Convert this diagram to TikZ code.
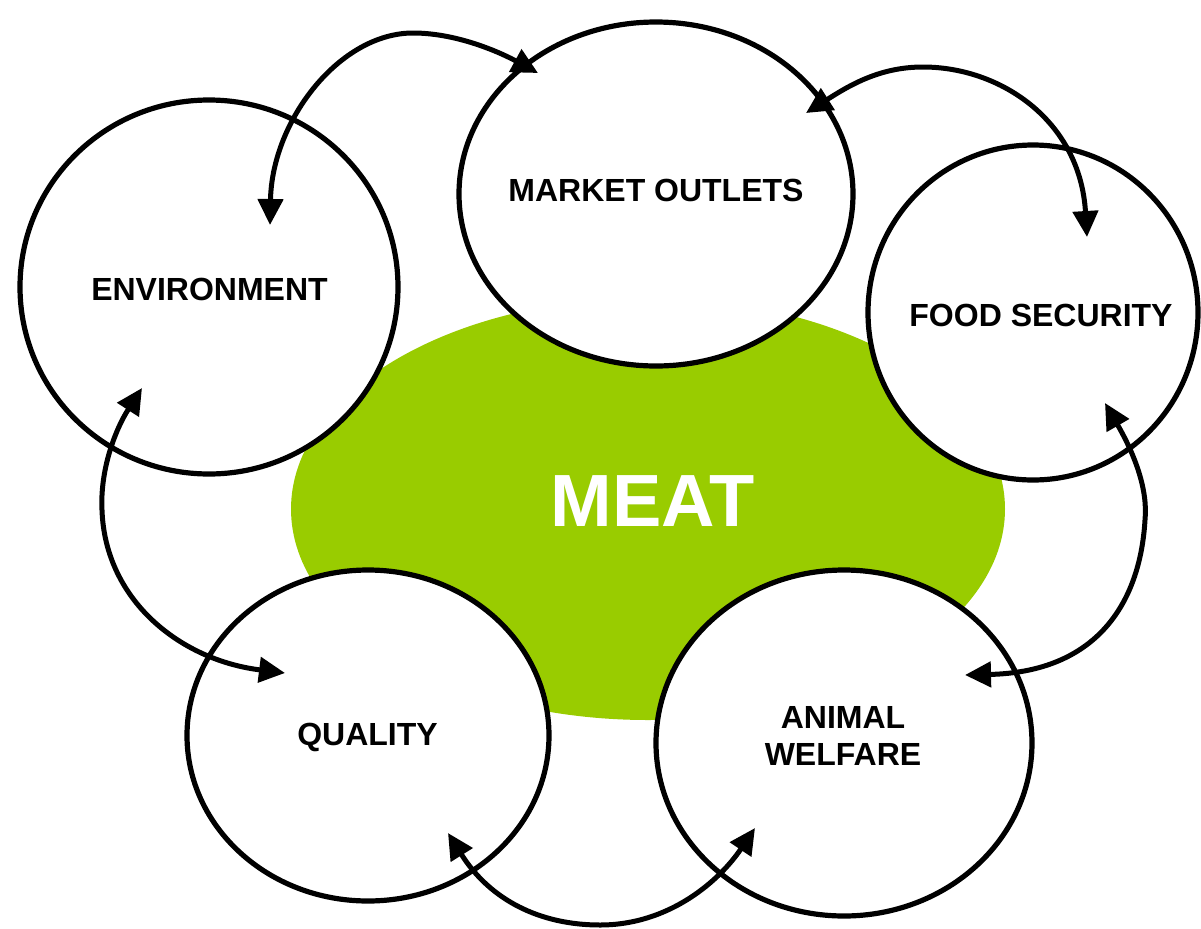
\documentclass[tikz,border=0pt]{standalone}
\usepackage{fontspec}
\setmainfont{Liberation Sans}
\usetikzlibrary{shapes.geometric,arrows.meta}
\definecolor{meatgreen}{RGB}{153,204,0}
\begin{document}
\begin{tikzpicture}[x=0.5pt,y=-0.5pt,
  topic/.style={ellipse,draw=black,line width=2.6pt,fill=white,inner sep=0pt},
  topiclabel/.style={inner sep=0pt,font=\fontsize{16}{18.5}\selectfont\bfseries,align=center},
  link/.style={line width=2.5pt,
    {Triangle[length=13pt,width=12.5pt]}-{Triangle[length=13pt,width=12.5pt]}}]
\useasboundingbox (0,0) rectangle (1201,928);
% central ellipse
\node[ellipse,fill=meatgreen,inner sep=0pt,minimum width=357pt,minimum height=211pt] (meat) at (648,509) {};
\node[text=white,font=\fontsize{37}{40}\selectfont\bfseries] (meatlabel) at (653,501) {MEAT};
% topic circles
\node[topic,minimum width=197pt,minimum height=172pt] (mo) at (656,194) {};
\node[topic,minimum width=189pt,minimum height=187pt] (env) at (209,287) {};
\node[topic,minimum width=165pt,minimum height=167.5pt] (fs) at (1033,312.5) {};
\node[topic,minimum width=181pt,minimum height=165.5pt] (q) at (368,735.5) {};
\node[topic,minimum width=188pt,minimum height=173pt] (aw) at (844,743) {};
% labels
\node[topiclabel] (molabel) at (656,190) {MARKET OUTLETS};
\node[topiclabel] (envlabel) at (209.5,289) {ENVIRONMENT};
\node[topiclabel] (fslabel) at (1041,315) {FOOD SECURITY};
\node[topiclabel] (qlabel) at (367.5,737) {QUALITY};
\node[topiclabel] (awlabel) at (843,736) {ANIMAL\\WELFARE};
% arrow end points
\coordinate (a1s) at (270,225);  \coordinate (a1e) at (538,73);
\coordinate (a2s) at (806,113);  \coordinate (a2e) at (1087,237);
\coordinate (a3s) at (1105,403); \coordinate (a3e) at (965,675);
\coordinate (a4s) at (448,833);  \coordinate (a4e) at (755,828);
\coordinate (a5s) at (142,388);  \coordinate (a5e) at (285,673);
% connectors
\draw[link] (a1s) .. controls (272,120) and (340,33) .. (413,33) .. controls (460,33) and (505,55) .. (a1e);
\draw[link] (a2s) .. controls (850,85) and (880,67) .. (923,67) .. controls (1000,67) and (1080,120) .. (a2e);
\draw[link] (a3s) .. controls (1135,455) and (1148,490) .. (1145,520) .. controls (1140,605) and (1095,672) .. (a3e);
\draw[link] (a4s) .. controls (490,900) and (540,925) .. (600,925) .. controls (670,925) and (720,880) .. (a4e);
\draw[link] (a5s) .. controls (115,430) and (100,470) .. (102,510) .. controls (105,600) and (180,660) .. (a5e);
\end{tikzpicture}
\end{document}
